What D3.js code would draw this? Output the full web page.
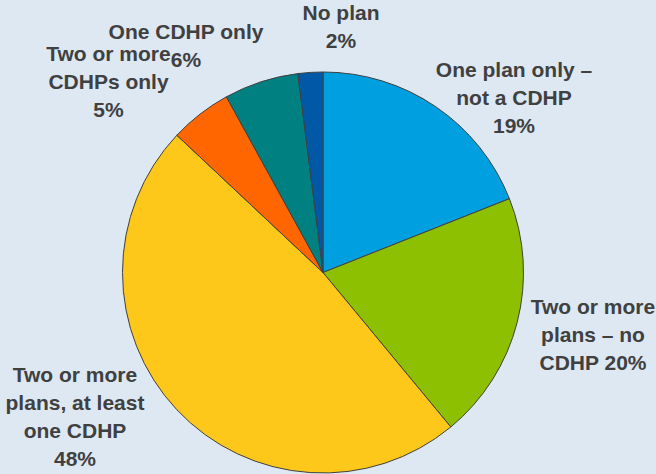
<!DOCTYPE html>
<html>
<head>
<meta charset="utf-8">
<script src="https://cdn.jsdelivr.net/npm/d3@7/dist/d3.min.js"></script>
<style>
  html, body { margin: 0; padding: 0; background: #dde8f3; }
  svg { display: block; }
</style>
</head>
<body>
<svg id="chart" width="656" height="474"></svg>
<script>
// Share of respondents by plan offering (clockwise from 12 o'clock)
const categories = [
  "One plan only – not a CDHP",
  "Two or more plans – no CDHP",
  "Two or more plans, at least one CDHP",
  "Two or more CDHPs only",
  "One CDHP only",
  "No plan"
];
const values = [19, 20, 48, 5, 6, 2];
const colors = ["#00a0e0", "#8cc000", "#fdc819", "#ff6600", "#008080", "#0058a6"];
// Label lines for each slice
const labelLines = [
  ["One plan only –", "not a CDHP", "19%"],
  ["Two or more", "plans – no", "CDHP 20%"],
  ["Two or more", "plans, at least", "one CDHP", "48%"],
  ["Two or more", "CDHPs only", "5%"],
  ["One CDHP only", "6%"],
  ["No plan", "2%"]
];

const W = 656, H = 474;
const cx = 323, cy = 272.5, R = 200.5;

const svg = d3.select("#chart");
svg.append("rect").attr("width", W).attr("height", H).attr("fill", "#dde8f3");

const data = categories.map((c, i) => ({ name: c, value: values[i], color: colors[i], lines: labelLines[i] }));

const pie = d3.pie().value(d => d.value).sort(null).startAngle(0).endAngle(2 * Math.PI);
const arc = d3.arc().innerRadius(0).outerRadius(R);
const arcs = pie(data);

const g = svg.append("g").attr("transform", `translate(${cx},${cy})`);
g.selectAll("path.slice")
  .data(arcs)
  .join("path")
  .attr("class", "slice")
  .attr("d", arc)
  .attr("fill", d => d.data.color)
  .attr("stroke", "#404040")
  .attr("stroke-width", 1)
  .attr("stroke-linejoin", "round");

// Label placement: horizontal centre and first-line baseline for each slice's text block
const labelPos = [
  { x: 514, y: 77 },
  { x: 593, y: 314 },
  { x: 75, y: 382 },
  { x: 108.5, y: 61 },
  { x: 186, y: 39 },
  { x: 341, y: 20 }
];
const lineH = 28;

const labels = svg.append("g")
  .attr("font-family", "'Liberation Sans', Arial, sans-serif")
  .attr("font-weight", "bold")
  .attr("font-size", "21px")
  .attr("fill", "#404040")
  .attr("text-anchor", "middle");

arcs.forEach((a, i) => {
  const p = labelPos[i];
  const t = labels.append("text").attr("x", p.x).attr("y", p.y);
  a.data.lines.forEach((ln, j) => {
    t.append("tspan").attr("x", p.x).attr("y", p.y + j * lineH).text(ln);
  });
});
</script>
</body>
</html>
